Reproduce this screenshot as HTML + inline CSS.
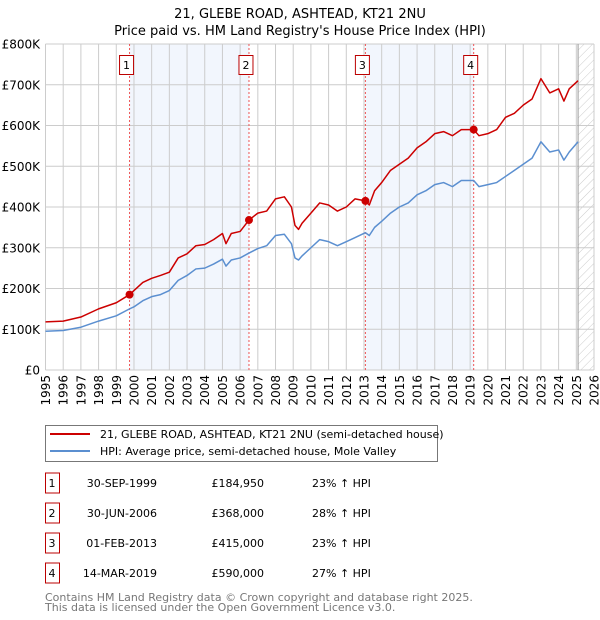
<!DOCTYPE html>
<html><head><meta charset="utf-8"><style>
body{margin:0;background:#fff;}
svg{display:block;font-family:"DejaVu Sans","Liberation Sans",sans-serif;}
</style></head><body>
<svg id="chart" width="600" height="620" xmlns="http://www.w3.org/2000/svg">
<text x="300" y="18" text-anchor="middle" font-size="13">21, GLEBE ROAD, ASHTEAD, KT21 2NU</text>
<text x="300" y="35" text-anchor="middle" font-size="13">Price paid vs. HM Land Registry's House Price Index (HPI)</text>
<defs><pattern id="hatch" patternUnits="userSpaceOnUse" width="6" height="6" patternTransform="rotate(45)"><line x1="0" y1="0" x2="0" y2="6" stroke="#ccc" stroke-width="1"/></pattern></defs>
<g id="plot"></g>
<g>
<rect x="45.5" y="425.5" width="392" height="36" fill="#fff" stroke="#777"/>
<line x1="50" y1="434" x2="90" y2="434" stroke="#cc0000" stroke-width="2"/>
<text x="100" y="438" font-size="11">21, GLEBE ROAD, ASHTEAD, KT21 2NU (semi-detached house)</text>
<line x1="50" y1="451" x2="90" y2="451" stroke="#5b8fd0" stroke-width="2"/>
<text x="100" y="455" font-size="11">HPI: Average price, semi-detached house, Mole Valley</text>
</g>
<g id="table"></g>
<text x="45" y="601" font-size="11" fill="#777">Contains HM Land Registry data © Crown copyright and database right 2025.</text>
<text x="45" y="611" font-size="11" fill="#777">This data is licensed under the Open Government Licence v3.0.</text>
</svg>
<script>
const hpiYears=[1995,1996,1997,1998,1999,1999.75,2000,2000.5,2001,2001.5,2002,2002.5,2003,2003.5,2004,2004.5,2005,2005.2,2005.5,2006,2006.5,2007,2007.5,2008,2008.5,2008.9,2009.1,2009.3,2009.5,2010,2010.5,2011,2011.5,2012,2012.5,2013.08,2013.3,2013.6,2014,2014.5,2015,2015.5,2016,2016.5,2017,2017.5,2018,2018.5,2019.2,2019.5,2020,2020.5,2021,2021.5,2022,2022.5,2023,2023.5,2024,2024.3,2024.6,2025.1];
const hpiValues=[95,97,105,120,133,150,155,170,180,185,195,220,232,248,250,260,272,255,270,275,287,298,305,330,333,310,275,270,280,300,320,315,305,315,325,337,330,350,365,385,400,410,430,440,455,460,450,465,465,450,455,460,475,490,505,520,560,535,540,515,535,560];
const priceValues=[118,120,130,150,165,185,195,215,225,232,240,275,285,305,308,320,335,310,335,340,368,385,390,420,425,400,355,345,360,385,410,405,390,400,420,415,405,440,460,490,505,520,545,560,580,585,575,590,590,575,580,590,620,630,650,665,715,680,690,660,690,710];
const saleLabels=["1","2","3","4"];
const saleYears=[1999.75,2006.5,2013.08,2019.2];
const salePrices=[184.95,368,415,590];
const saleDates=["30-SEP-1999","30-JUN-2006","01-FEB-2013","14-MAR-2019"];
const salePriceText=["£184,950","£368,000","£415,000","£590,000"];
const saleHpiText=["23% ↑ HPI","28% ↑ HPI","23% ↑ HPI","27% ↑ HPI"];
const yTicks=[0,100,200,300,400,500,600,700,800];
const yTickLabels=["£0","£100K","£200K","£300K","£400K","£500K","£600K","£700K","£800K"];
const xMin=1995,xMax=2026,x0=45.5,x1=594,yBot=370,yTop=44;
const X=v=>x0+(v-xMin)*(x1-x0)/(xMax-xMin);
const Y=v=>yBot-(v/800)*(yBot-yTop);
const NS="http://www.w3.org/2000/svg";
const plot=document.getElementById('plot');
function mk(tag,attrs,parent){const e=document.createElementNS(NS,tag);for(const k in attrs)e.setAttribute(k,attrs[k]);(parent||plot).appendChild(e);return e;}
for(let i=0;i<saleYears.length;i+=2){
 const r=mk('rect',{x:X(saleYears[i]),y:yTop,width:X(saleYears[i+1])-X(saleYears[i]),height:yBot-yTop,fill:'#f2f6fd'});
 
 
}
const h=mk('rect',{x:X(2025.1),y:yTop,width:x1-X(2025.1),height:yBot-yTop,fill:'url(#hatch)'});


for(let yr=1995;yr<=2026;yr++){
 const l=mk('line',{x1:X(yr),x2:X(yr),y1:yTop,y2:yBot,stroke:'#ccc','stroke-width':1});
 
 
 const t=mk('text',{x:0,y:0,'font-size':12,'text-anchor':'end',transform:`translate(${X(yr)+4.5},375) rotate(-90)`});
 t.textContent=yr;
 
 
}
yTicks.forEach((v,i)=>{
 const l=mk('line',{x1:x0,x2:x1,y1:Y(v),y2:Y(v),stroke:'#ccc','stroke-width':1});
 
 
 const t=mk('text',{x:40,y:Y(v)+4.5,'font-size':12,'text-anchor':'end'});
 t.textContent=yTickLabels[i];
 
 
});
const el=mk('line',{x1:X(2025.1),x2:X(2025.1),y1:yTop,y2:yBot,stroke:'#999','stroke-width':1});


saleYears.forEach((yr,i)=>{
 const l=mk('line',{x1:X(yr),x2:X(yr),y1:yTop,y2:yBot,stroke:'#ee5555','stroke-width':1,'stroke-dasharray':'2,2'});
 
 
 const b=mk('rect',{x:X(yr)-10,y:55.5,width:14,height:19,fill:'#fff',stroke:'#bb0000'});
 
 
 const t=mk('text',{x:X(yr)-3,y:69,'font-size':11,'text-anchor':'middle'});
 t.textContent=saleLabels[i];
 
 
});
const hp=mk('polyline',{points:hpiYears.map((y,i)=>X(y)+','+Y(hpiValues[i])).join(' '),fill:'none',stroke:'#5b8fd0','stroke-width':1.5,'stroke-linejoin':'round'});


const pp=mk('polyline',{points:hpiYears.map((y,i)=>X(y)+','+Y(priceValues[i])).join(' '),fill:'none',stroke:'#cc0000','stroke-width':1.5,'stroke-linejoin':'round'});


saleYears.forEach((yr,i)=>{
 const c=mk('circle',{cx:X(yr),cy:Y(salePrices[i]),r:4,fill:'#cc0000'});
 
 
});
const tb=document.getElementById('table');
saleLabels.forEach((s,i)=>{
 const cy=483+i*30;
 const b=mk('rect',{x:45.5,y:cy-10,width:14,height:20,fill:'#fff',stroke:'#bb0000'},tb);
 
 
 const cells=[[52,'middle',s],[157,'end',saleDates[i]],[264,'end',salePriceText[i]],[312,'start',saleHpiText[i]]];
 cells.forEach(c=>{
  const t=mk('text',{x:c[0],y:cy+4,'font-size':11,'text-anchor':c[1]},tb);
  t.textContent=c[2];
  
  
 });
});
</script>
</body></html>
